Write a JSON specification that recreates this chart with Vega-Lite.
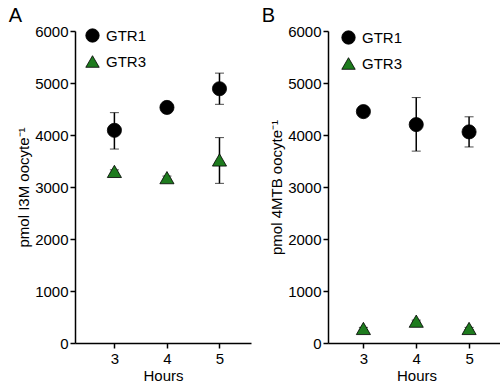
{
  "$schema": "https://vega.github.io/schema/vega-lite/v6.json",
  "background": "white",
  "padding": {"left": 8, "top": 6, "right": 0, "bottom": 0},
  "config": {
    "font": "Liberation Sans",
    "view": {"stroke": null},
    "axis": {
      "domainColor": "black", "domainWidth": 1.5, "tickColor": "black", "tickWidth": 1.5, "tickSize": 5,
      "labelColor": "black", "labelFontSize": 15, "labelFont": "Liberation Sans",
      "titleColor": "black", "titleFontSize": 15, "titleFontWeight": "normal", "titleFont": "Liberation Sans",
      "grid": false
    },
    "title": {"fontSize": 20, "fontWeight": "normal", "color": "black", "anchor": "start", "frame": "bounds", "offset": -2},
    "legend": {"labelFontSize": 15, "labelColor": "black", "labelFont": "Liberation Sans", "symbolSize": 180, "rowPadding": 10, "labelOffset": 6, "padding": 0, "symbolStrokeColor": "black", "symbolStrokeWidth": 0.8}
  },
  "datasets": {
    "a": [
      {"hours": 3, "series": "GTR1", "value": 4090, "lo": 3730, "hi": 4430},
      {"hours": 4, "series": "GTR1", "value": 4530, "lo": 4500, "hi": 4560},
      {"hours": 5, "series": "GTR1", "value": 4890, "lo": 4590, "hi": 5190},
      {"hours": 3, "series": "GTR3", "value": 3300, "lo": 3270, "hi": 3330},
      {"hours": 4, "series": "GTR3", "value": 3180, "lo": 3150, "hi": 3210},
      {"hours": 5, "series": "GTR3", "value": 3520, "lo": 3070, "hi": 3950}
    ],
    "b": [
      {"hours": 3, "series": "GTR1", "value": 4450, "lo": 4360, "hi": 4540},
      {"hours": 4, "series": "GTR1", "value": 4200, "lo": 3690, "hi": 4720},
      {"hours": 5, "series": "GTR1", "value": 4060, "lo": 3770, "hi": 4350},
      {"hours": 3, "series": "GTR3", "value": 280, "lo": 260, "hi": 300},
      {"hours": 4, "series": "GTR3", "value": 420, "lo": 400, "hi": 440},
      {"hours": 5, "series": "GTR3", "value": 280, "lo": 260, "hi": 300}
    ]
  },
  "resolve": {"legend": {"color": "independent", "shape": "independent"}, "scale": {"color": "independent", "shape": "independent"}},
  "spacing": 10,
  "hconcat": [
    {
      "title": {"text": "A", "dx": -8},
      "width": 176, "height": 312,
      "data": {"name": "a"},
      "layer": [
        {
          "mark": {"type": "errorbar", "ticks": {"size": 9, "color": "black", "strokeWidth": 1.5}, "rule": {"color": "black", "strokeWidth": 1.5}},
          "encoding": {
            "x": {"field": "hours", "type": "quantitative", "title": "Hours"},
            "y": {"field": "lo", "type": "quantitative", "title": "pmol I3M oocyte⁻¹"},
            "y2": {"field": "hi"}
          }
        },
        {
          "mark": {"type": "point", "filled": true, "size": 200, "opacity": 1, "stroke": "black", "strokeWidth": 0.8},
          "encoding": {
            "x": {"field": "hours", "type": "quantitative", "scale": {"domain": [2.25, 5.6], "nice": false, "zero": false}, "axis": {"values": [3, 4, 5], "format": "d", "title": "Hours", "labelPadding": 3, "titlePadding": 2}},
            "y": {"field": "value", "type": "quantitative", "scale": {"domain": [0, 6000], "nice": false}, "axis": {"values": [0, 1000, 2000, 3000, 4000, 5000, 6000], "format": "d", "title": "pmol I3M oocyte⁻¹", "labelPadding": 2, "titlePadding": 3}},
            "color": {"field": "series", "type": "nominal", "scale": {"domain": ["GTR1", "GTR3"], "range": ["black", "#1e7b1e"]}, "legend": {"title": null, "orient": "none", "legendX": 10, "legendY": -3}},
            "shape": {"field": "series", "type": "nominal", "scale": {"domain": ["GTR1", "GTR3"], "range": ["circle", "triangle-up"]}, "legend": {"title": null, "orient": "none", "legendX": 10, "legendY": -3}}
          }
        }
      ]
    },
    {
      "title": {"text": "B", "dx": -8},
      "width": 177, "height": 312,
      "data": {"name": "b"},
      "layer": [
        {
          "mark": {"type": "errorbar", "ticks": {"size": 9, "color": "black", "strokeWidth": 1.5}, "rule": {"color": "black", "strokeWidth": 1.5}},
          "encoding": {
            "x": {"field": "hours", "type": "quantitative", "title": "Hours"},
            "y": {"field": "lo", "type": "quantitative", "title": "pmol 4MTB oocyte⁻¹"},
            "y2": {"field": "hi"}
          }
        },
        {
          "mark": {"type": "point", "filled": true, "size": 200, "opacity": 1, "stroke": "black", "strokeWidth": 0.8},
          "encoding": {
            "x": {"field": "hours", "type": "quantitative", "scale": {"domain": [2.33, 5.68], "nice": false, "zero": false}, "axis": {"values": [3, 4, 5], "format": "d", "title": "Hours", "labelPadding": 3, "titlePadding": 2}},
            "y": {"field": "value", "type": "quantitative", "scale": {"domain": [0, 6000], "nice": false}, "axis": {"values": [0, 1000, 2000, 3000, 4000, 5000, 6000], "format": "d", "title": "pmol 4MTB oocyte⁻¹", "labelPadding": 2, "titlePadding": 3}},
            "color": {"field": "series", "type": "nominal", "scale": {"domain": ["GTR1", "GTR3"], "range": ["black", "#1e7b1e"]}, "legend": {"title": null, "orient": "none", "legendX": 13, "legendY": -1}},
            "shape": {"field": "series", "type": "nominal", "scale": {"domain": ["GTR1", "GTR3"], "range": ["circle", "triangle-up"]}, "legend": {"title": null, "orient": "none", "legendX": 13, "legendY": -1}}
          }
        }
      ]
    }
  ]
}
